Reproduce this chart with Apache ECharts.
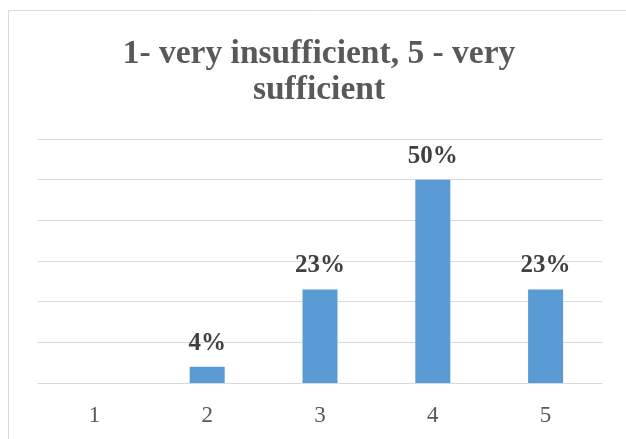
<!DOCTYPE html>
<html>
<head>
<meta charset="utf-8">
<script src="https://cdn.jsdelivr.net/npm/echarts@6/dist/echarts.min.js"></script>
<style>
  html, body { margin: 0; padding: 0; background: #ffffff; }
  #chart { width: 626px; height: 439px; }
</style>
</head>
<body>
<div id="chart"></div>
<script>
// Rating scale categories and share of responses (percent)
const categories = ['1', '2', '3', '4', '5'];
const shares = [0, 4, 23, 50, 23];
const titleText = '1- very insufficient, 5 - very\nsufficient';

const serif = '"Liberation Serif", "DejaVu Serif", serif';

const chart = echarts.init(document.getElementById('chart'), null, { renderer: 'canvas' });
chart.setOption({
  backgroundColor: '#ffffff',
  animation: false,
  graphic: [{
    type: 'rect',
    shape: { x: 8.5, y: 10.5, width: 640, height: 460 },
    style: { fill: 'none', stroke: '#d9d9d9', lineWidth: 1 },
    silent: true
  }],
  title: {
    text: titleText,
    // anchored on the centre of the outer frame
    left: 319,
    textAlign: 'center',
    top: 36,
    padding: 0,
    textStyle: {
      fontFamily: serif,
      fontWeight: 'bold',
      fontSize: 33.5,
      lineHeight: 36,
      color: '#595959'
    }
  },
  grid: { left: 38, right: 24, top: 139, bottom: 56 },
  xAxis: {
    type: 'category',
    data: categories,
    axisLine: { lineStyle: { color: '#d9d9d9', width: 1 } },
    axisTick: { show: false },
    axisLabel: { fontFamily: serif, fontSize: 23, color: '#595959', margin: 21 }
  },
  yAxis: {
    type: 'value',
    min: 0,
    max: 60,
    interval: 10,
    axisLabel: { show: false },
    axisLine: { show: false },
    axisTick: { show: false },
    splitLine: { lineStyle: { color: '#d9d9d9', width: 1 } }
  },
  series: [{
    type: 'bar',
    data: shares,
    barWidth: 35,
    itemStyle: { color: '#5b9bd5' },
    label: {
      show: true,
      position: 'top',
      distance: 11,
      fontFamily: serif,
      fontWeight: 'bold',
      fontSize: 25,
      color: '#404040',
      formatter: p => (p.value > 0 ? p.value + '%' : '')
    }
  }]
});
</script>
</body>
</html>
